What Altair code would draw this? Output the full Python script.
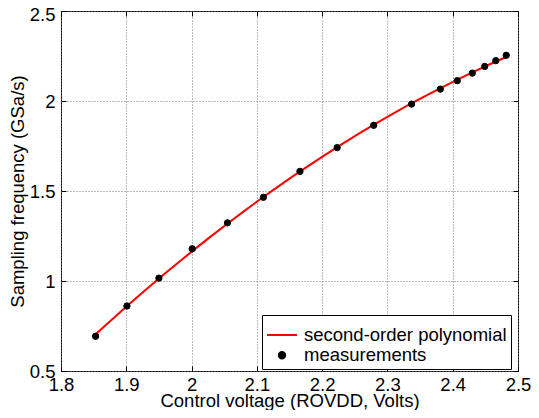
import altair as alt
import pandas as pd

# Measured points (control voltage in V, sampling frequency in GSa/s)
voltage = [1.853, 1.901, 1.950, 2.001, 2.055, 2.110, 2.166, 2.223,
           2.279, 2.337, 2.381, 2.407, 2.430, 2.449, 2.466, 2.482]
frequency = [0.693, 0.861, 1.016, 1.179, 1.323, 1.465, 1.609, 1.741,
             1.865, 1.983, 2.066, 2.113, 2.155, 2.192, 2.224, 2.254]
series_names = ["second-order polynomial", "measurements"]
x_ticks = [1.8, 1.9, 2.0, 2.1, 2.2, 2.3, 2.4, 2.5]
y_ticks = [0.5, 1.0, 1.5, 2.0, 2.5]

df = pd.DataFrame({"V": voltage, "F": frequency, "series": "measurements"})

FONT = "Liberation Sans"
FS = 18.5
xscale = alt.Scale(domain=[1.8, 2.5], nice=False, zero=False)
yscale = alt.Scale(domain=[0.5, 2.5], nice=False, zero=False)

common_axis = dict(offset=-5, tickSize=5, domain=False, tickColor="black",
                   labelFont=FONT, labelFontSize=FS, labelColor="black",
                   labelFlush=False, labelOverlap=False,
                   titleFont=FONT, titleFontSize=FS, titleColor="black",
                   titleFontWeight="normal", format="~g")

x_main = alt.X("V:Q", scale=xscale, axis=alt.Axis(
    orient="bottom", values=x_ticks, grid=True, gridDash=[1, 2],
    gridColor="#777", labelPadding=4, titlePadding=-2,
    title="Control voltage (ROVDD, Volts)", **common_axis))
y_main = alt.Y("F:Q", scale=yscale, axis=alt.Axis(
    orient="left", values=y_ticks, grid=True, gridDash=[1, 2],
    gridColor="#777", labelPadding=6, titlePadding=2,
    labelOffset={"condition": {"test": "datum.value == 2.5", "value": 3.5}, "value": 0},
    title="Sampling frequency (GSa/s)", **common_axis))
x_top = alt.X("V:Q", scale=xscale, axis=alt.Axis(
    orient="top", values=x_ticks, grid=False, labels=False, title=None,
    **common_axis))
y_right = alt.Y("F:Q", scale=yscale, axis=alt.Axis(
    orient="right", values=y_ticks, grid=False, labels=False, title=None,
    **common_axis))

leg = alt.Legend(
    title=None, orient="none", legendX=201, legendY=304,
    strokeColor="black", fillColor="white", padding=4,
    labelFont=FONT, labelFontSize=FS, labelColor="black", labelOffset=6,
    labelLimit=0, rowPadding=1, symbolFillColor="black", symbolStrokeWidth=2,
    symbolOpacity=1)

line = alt.Chart(df).transform_regression(
    "V", "F", method="poly", order=2
).mark_line(color="red", strokeWidth=2).encode(x=x_main, y=y_main)

points = alt.Chart(df).mark_point(filled=False, fill="black", strokeWidth=1, opacity=1).encode(
    x=x_top, y=y_right,
    color=alt.Color("series:N", scale=alt.Scale(domain=series_names, range=["red", "black"]), legend=leg),
    shape=alt.Shape("series:N", scale=alt.Scale(domain=series_names, range=["M-1,0L1,0", "circle"]), legend=leg),
    size=alt.Size("series:N", scale=alt.Scale(domain=series_names, range=[900, 40]), legend=leg),
)

chart = alt.layer(line, points).resolve_axis(
    x="independent", y="independent"
).properties(
    width=457, height=360,
    autosize=alt.AutoSizeParams(type="none"),
    padding={"left": 53, "top": 3, "right": 13, "bottom": 39},
).configure_view(stroke="black", strokeWidth=1)

chart.save("out.html", embed_options={"renderer": "svg", "actions": False})
